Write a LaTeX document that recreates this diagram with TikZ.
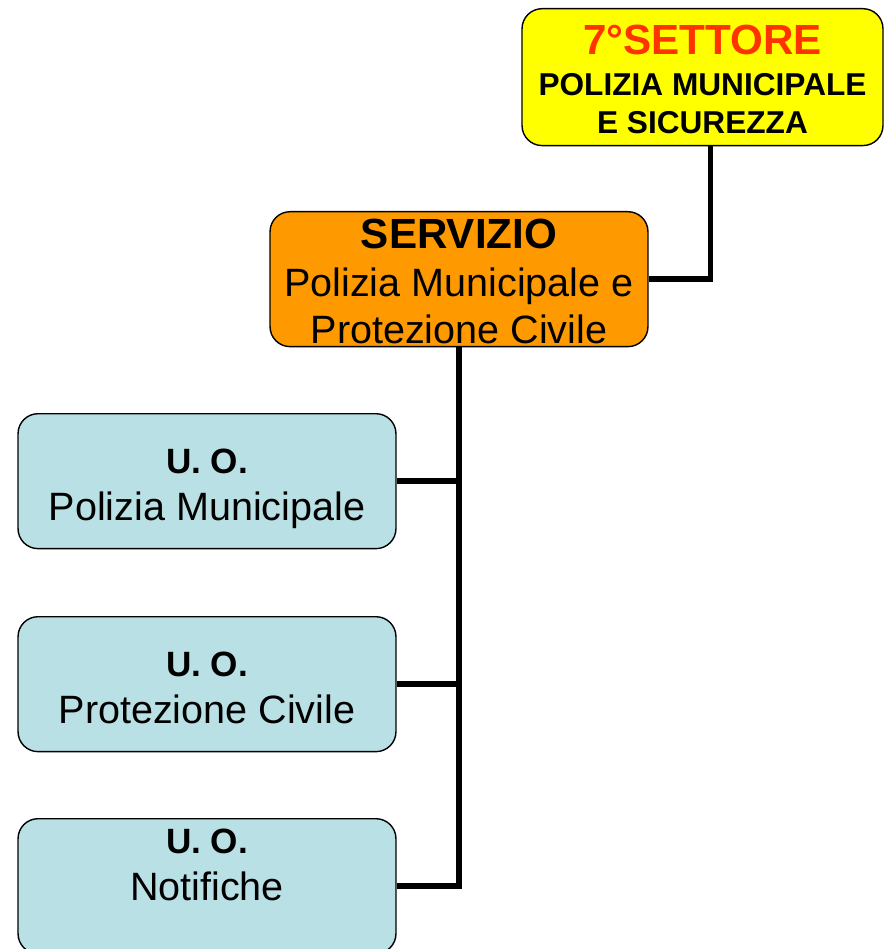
\documentclass[tikz,border=0pt]{standalone}
\usepackage{fontspec}
\setmainfont{Liberation Sans}
\usepackage{tikz}

\definecolor{settoreyellow}{HTML}{FFFF00}
\definecolor{settorered}{HTML}{FF3300}
\definecolor{servizioorange}{HTML}{FF9900}
\definecolor{uoblue}{HTML}{B9E0E4}

\begin{document}
\begin{tikzpicture}[x=0.02cm, y=-0.02cm]
        \tikzstyle{every node}=[draw, line width=0.8pt, rounded corners=0.4cm, align=center, inner ysep=0pt, anchor=north]
        \tikzstyle{settorebox}=[fill=settoreyellow, minimum width=7.22cm, text height=71.1pt, text depth=6.8pt, font=\fontsize{18}{21.6}\selectfont\bfseries]
        \tikzstyle{serviziobox}=[fill=servizioorange, minimum width=7.56cm, text height=75.1pt, text depth=1.7pt, font=\fontsize{22.5}{27}\selectfont]
        \tikzstyle{uobox}=[fill=uoblue, minimum width=7.56cm, text height=60.9pt, text depth=15.9pt, font=\fontsize{22.5}{27}\selectfont]
        \tikzstyle{conn}=[line width=3.4pt]
        \useasboundingbox (0,0) rectangle (884,949);
        % boxes
        \node[settorebox] (settore) at (702.5,8) {{\fontsize{24}{28}\selectfont\color{settorered}7°SETTORE}\\[2pt] POLIZIA MUNICIPALE\\ E SICUREZZA};
        \node[serviziobox] (servizio) at (459,211) {{\fontsize{24}{28}\selectfont\bfseries SERVIZIO}\\ Polizia Municipale e\\ Protezione Civile};
        \node[uobox] (uoPM) at (207,413) {{\fontsize{20}{24}\selectfont\bfseries U. O.}\\ Polizia Municipale};
        \node[uobox] (uoPC) at (207,616) {{\fontsize{20}{24}\selectfont\bfseries U. O.}\\ Protezione Civile};
        \node[uobox, text height=46.7pt, text depth=30.1pt] (uoNot) at (207,818) {{\fontsize{20}{24}\selectfont\bfseries U. O.}\\ Notifiche};
        % connectors
        \draw[conn] ([xshift=0.16cm]settore.south) |- (servizio.east);
        \draw[conn] (servizio.south) |- (uoPM.east);
        \draw[conn] (servizio.south) |- (uoPC.east);
        \draw[conn] (servizio.south) |- (uoNot.east);
    \end{tikzpicture}
\end{document}
